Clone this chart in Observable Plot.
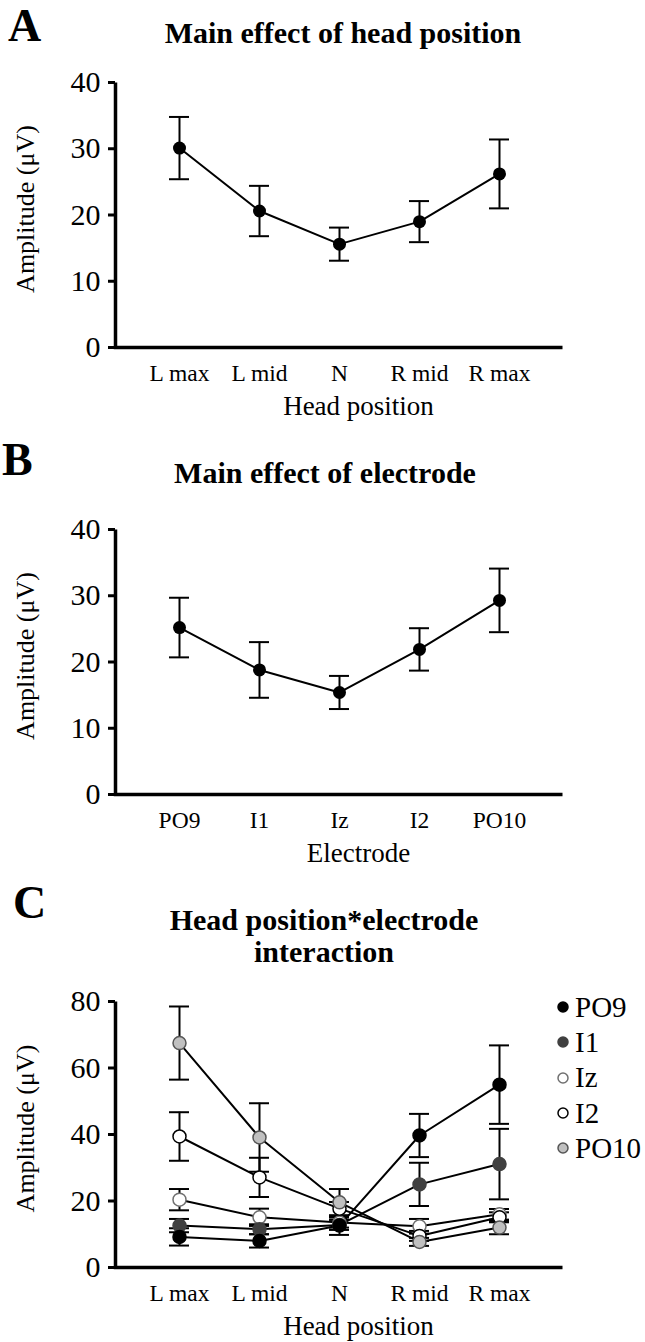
<!DOCTYPE html>
<html><head><meta charset="utf-8">
<script src="https://cdn.jsdelivr.net/npm/d3@7"></script>
<script src="https://cdn.jsdelivr.net/npm/@observablehq/plot@0.6"></script>
<style>
body{margin:0;background:#fff;}
#page{position:relative;width:645px;height:1342px;overflow:hidden;font-family:"Liberation Serif","Times New Roman",serif;color:#000;background:#fff;}
#page svg, #page svg text{font-family:"Liberation Serif","Times New Roman",serif !important;}
.abs{position:absolute;white-space:nowrap;}
.title{font-weight:bold;font-size:30px;line-height:30px;text-align:center;width:600px;}
.letter{font-weight:bold;font-size:46px;line-height:38px;}
.leg{font-size:29px;line-height:29px;}
</style></head><body><div id="page"></div>
<script>
// ---- categories ----
const headPositions = ["L max", "L mid", "N", "R mid", "R max"];
const electrodes = ["PO9", "I1", "Iz", "I2", "PO10"];

// ---- Panel A: main effect of head position ----
const headMeans  = [30.1, 20.6, 15.6, 19.0, 26.2];
const headErrors = [4.7, 3.8, 2.5, 3.1, 5.2];

// ---- Panel B: main effect of electrode ----
const electrodeMeans  = [25.2, 18.8, 15.4, 21.9, 29.3];
const electrodeErrors = [4.5, 4.2, 2.5, 3.2, 4.8];

// ---- Panel C: head position * electrode (values per head position) ----
const po9Means   = [9.2, 8.0, 12.6, 39.7, 55.0];
const po9Errors  = [2.6, 2.0, 2.8, 6.5, 11.8];
const i1Means    = [12.6, 11.5, 12.8, 25.0, 31.1];
const i1Errors   = [2.0, 1.5, 1.5, 6.5, 10.6];
const izMeans    = [20.4, 15.1, 13.5, 12.4, 16.0];
const izErrors   = [3.2, 2.6, 1.5, 2.2, 1.6];
const i2Means    = [39.4, 27.1, 17.7, 9.5, 15.1];
const i2Errors   = [7.3, 5.9, 2.0, 1.5, 1.5];
const po10Means  = [67.5, 39.1, 19.6, 7.7, 12.0];
const po10Errors = [11.0, 10.3, 4.0, 1.2, 2.0];

// ---- styles ----
const seriesFill   = ["#000000", "#404040", "#ffffff", "#ffffff", "#c0c0c0"];
const seriesStroke = ["#000000", "#404040", "#707070", "#000000", "#555555"];
const dotOrder = ["Iz", "I2", "I1", "PO10", "PO9"];

const yLabel = "Amplitude (\u03bcV)";

const dataA = headPositions.map((c, i) => ({series: "A", cat: c, mean: headMeans[i], err: headErrors[i]}));
const dataB = electrodes.map((c, i) => ({series: "B", cat: c, mean: electrodeMeans[i], err: electrodeErrors[i]}));
const cMeans = [po9Means, i1Means, izMeans, i2Means, po10Means];
const cErrors = [po9Errors, i1Errors, izErrors, i2Errors, po10Errors];
const dataC = electrodes.flatMap((e, k) => headPositions.map((h, i) => ({series: e, cat: h, mean: cMeans[k][i], err: cErrors[k][i]})));

const page = document.getElementById("page");
const W = 645, ML = 115, MR = 83;
const FONT = '"Liberation Serif","Times New Roman",serif';

function panel({data, domain, top, mt, h, mb, yMax, yTicks, xLabel, multi}) {
  const fw = W - ML - MR, fh = h - mt - mb;
  const marks = [
    Plot.frame({stroke: "black", strokeWidth: 3.5, strokeDasharray: `0 ${fw + fh} ${fw + fh}`}),
    Plot.axisY({ticks: yTicks, tickSize: 7, tickPadding: 8, fontSize: 30, fontFamily: FONT, strokeWidth: 3, tickFormat: d => String(d), label: null}),
    Plot.axisX({tickSize: 0, tickPadding: 17, fontSize: 23.5, fontFamily: FONT, label: null}),
    Plot.text([yLabel], {text: d => d, frameAnchor: "left", rotate: -90, dx: -90, dy: -6, fontSize: 26, fontFamily: FONT, textAnchor: "middle", lineAnchor: "middle"}),
    Plot.text([xLabel], {text: d => d, frameAnchor: "bottom", dx: 19.5, dy: 59, fontSize: 27, fontFamily: FONT, textAnchor: "middle", lineAnchor: "middle"}),
    Plot.line(data, {x: "cat", y: "mean", z: "series", stroke: "black", strokeWidth: 2}),
    Plot.ruleX(data, {x: "cat", y1: d => d.mean - d.err, y2: d => d.mean + d.err, stroke: "black", strokeWidth: 2}),
    Plot.tickY(data, {x: "cat", y: d => d.mean + d.err, stroke: "black", strokeWidth: 2}),
    Plot.tickY(data, {x: "cat", y: d => d.mean - d.err, stroke: "black", strokeWidth: 2})
  ];
  if (multi) {
    for (const name of dotOrder) {
      const k = electrodes.indexOf(name);
      marks.push(Plot.dot(data.filter(d => d.series === name), {x: "cat", y: "mean", r: 6.5, fill: seriesFill[k], stroke: seriesStroke[k], strokeWidth: 1.5}));
    }
  } else {
    marks.push(Plot.dot(data, {x: "cat", y: "mean", r: 6.5, fill: "black"}));
  }
  const svg = Plot.plot({
    width: W, height: h,
    marginLeft: ML, marginRight: MR, marginTop: mt, marginBottom: mb,
    style: {fontFamily: FONT, color: "black", background: "transparent", overflow: "visible"},
    x: {type: "band", domain, paddingInner: 0.75, paddingOuter: 0.6625, align: 0.5},
    y: {domain: [0, yMax]},
    marks
  });
  svg.style.position = "absolute";
  svg.style.left = "0px";
  svg.style.top = top + "px";
  page.appendChild(svg);
}

function addDiv(cls, text, left, top, extra = "") {
  const d = document.createElement("div");
  d.className = "abs " + cls;
  d.style.cssText += `left:${left}px;top:${top}px;${extra}`;
  d.innerHTML = text;
  page.appendChild(d);
}

// Panel A
addDiv("letter", "A", 8, 6.5);
addDiv("title", "Main effect of head position", 343 - 300, 18);
panel({data: dataA, domain: headPositions, top: 60, mt: 22, h: 367, mb: 80, yMax: 40, yTicks: [0, 10, 20, 30, 40], xLabel: "Head position"});

// Panel B
addDiv("letter", "B", 2, 440.5);
addDiv("title", "Main effect of electrode", 325 - 300, 458);
panel({data: dataB, domain: electrodes, top: 500, mt: 29, h: 374, mb: 80, yMax: 40, yTicks: [0, 10, 20, 30, 40], xLabel: "Electrode"});

// Panel C
addDiv("letter", "C", 13, 883.5);
addDiv("title", "Head position*electrode<br>interaction", 324 - 300, 904, "line-height:32px;");
panel({data: dataC, domain: headPositions, top: 975, mt: 26, h: 366, mb: 74, yMax: 80, yTicks: [0, 20, 40, 60, 80], xLabel: "Head position", multi: true});

// Legend for panel C
electrodes.forEach((name, k) => {
  const cy = 1007 + k * 35.3;
  const s = `<svg width="14" height="14" style="position:absolute;left:${563 - 7}px;top:${cy - 7}px;overflow:visible"><circle cx="7" cy="7" r="5" fill="${seriesFill[k]}" stroke="${seriesStroke[k]}" stroke-width="1.5"/></svg>`;
  const wrap = document.createElement("div");
  wrap.innerHTML = s;
  page.appendChild(wrap.firstChild);
  addDiv("leg", name, 575, cy - 14.3);
});
</script>
</body></html>
